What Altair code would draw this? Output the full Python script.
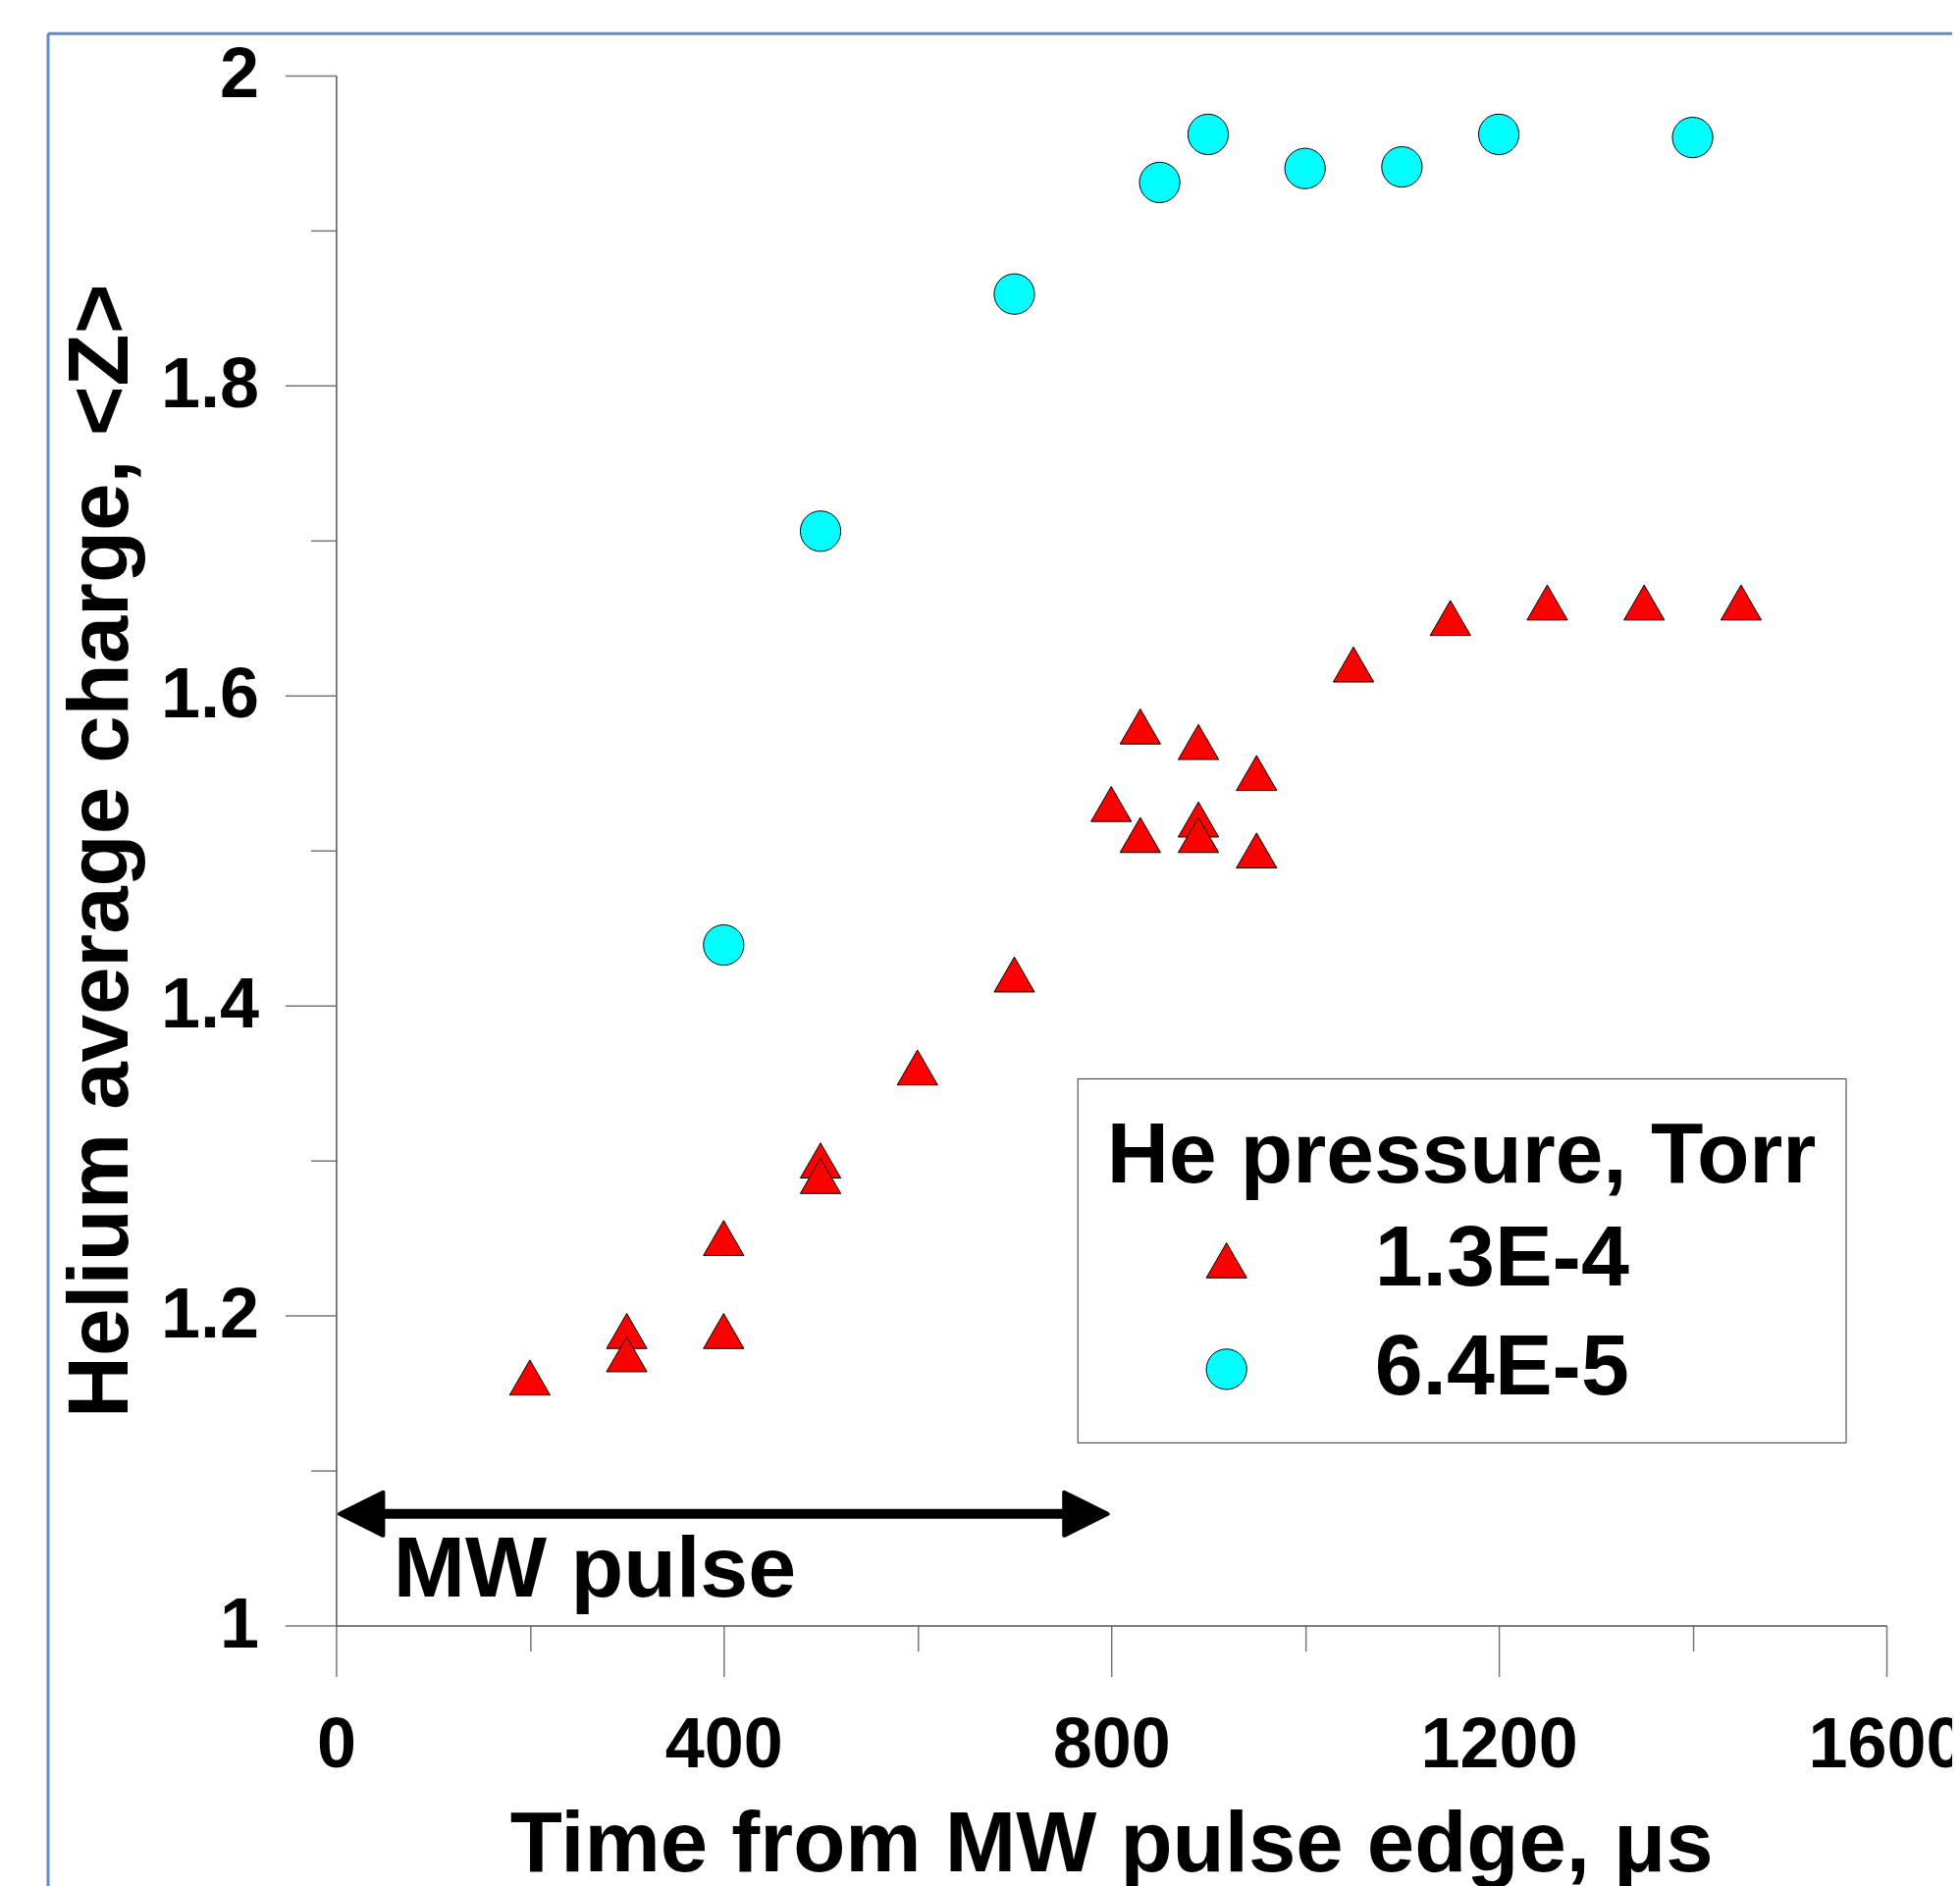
import altair as alt
import pandas as pd

# ---------------- data ----------------
SERIES = ["1.3E-4", "6.4E-5"]
LEGEND_TITLE = "He pressure, Torr"

TRI_TIME = [200, 300, 300, 400, 400, 500, 500, 600, 700, 800, 830, 830,
            890, 890, 890, 950, 950, 1050, 1150, 1250, 1350, 1450]
TRI_Z = [1.160, 1.190, 1.175, 1.250, 1.190, 1.300, 1.290, 1.360, 1.420, 1.530, 1.580, 1.510,
         1.570, 1.520, 1.510, 1.550, 1.500, 1.620, 1.650, 1.660, 1.660, 1.660]

CIRC_TIME = [400, 500, 700, 850, 900, 1000, 1100, 1200, 1400]
CIRC_Z = [1.439, 1.706, 1.859, 1.931, 1.962, 1.940, 1.941, 1.962, 1.960]

X_MAJOR = [0, 400, 800, 1200, 1600]
X_MINOR = [200, 600, 1000, 1400]
Y_MAJOR = [1.0, 1.2, 1.4, 1.6, 1.8, 2.0]
Y_MINOR = [1.1, 1.3, 1.5, 1.7, 1.9]

PULSE_TIME = [0, 800]
PULSE_Z = [1.072]
PULSE_LABEL = ["MW pulse"]
PULSE_LABEL_TIME = [59]
PULSE_LABEL_Z = [1.0186]

X_TITLE = "Time from MW pulse edge, \u03bcs"
Y_TITLE = "Helium average charge, <Z>"

# ---------------- styling ----------------
FONT = "Liberation Sans"
W = 1580
H = 1580
FRAME = "#5B8DC8"

df = pd.DataFrame({
    "t": TRI_TIME + CIRC_TIME,
    "z": TRI_Z + CIRC_Z,
    "p": [SERIES[0]] * len(TRI_TIME) + [SERIES[1]] * len(CIRC_TIME),
})

xscale = alt.Scale(domain=[0, 1600], nice=False, zero=False)
yscale = alt.Scale(domain=[1, 2], nice=False, zero=False)

common_axis = dict(domainColor="#555555", tickColor="#777777", domainWidth=1.5, tickWidth=1.5,
                   grid=False, labelFont=FONT, labelFontWeight="bold", labelColor="black",
                   titleFont=FONT, titleFontWeight="bold", titleColor="black",
                   labelOverlap=False, labelFlush=False, labelLimit=1000, titleLimit=3000)

legend = alt.Legend(
    orient="none", legendX=755.5, legendY=1022.3,
    title=LEGEND_TITLE, titleFont=FONT, titleFontSize=87.5, titleFontWeight="bold", titleColor="black",
    titleBaseline="line-top", titleLineHeight=102, titlePadding=24, titleLimit=3000,
    labelFont=FONT, labelFontSize=88, labelFontWeight="bold", labelColor="black", labelLimit=1000,
    symbolSize=1700, symbolOffset=78, labelOffset=107, rowPadding=23, padding=30,
    strokeColor="#333333", fillColor="white",
    symbolStrokeColor="black", symbolStrokeWidth=1,
)

points = alt.Chart(df).mark_point(filled=True, stroke="black", strokeWidth=1, opacity=1, size=1700).encode(
    x=alt.X("t:Q", scale=xscale, axis=alt.Axis(
        values=X_MAJOR, tickSize=52, labelPadding=35, labelFontSize=72, format="d",
        title=X_TITLE, titleFontSize=87, titleY=181, titleBaseline="top", orient="bottom",
        **common_axis)),
    y=alt.Y("z:Q", scale=yscale, axis=alt.Axis(
        values=Y_MAJOR, tickSize=52, labelPadding=27, labelFontSize=72, format=".1~f",
        title=Y_TITLE, titleFontSize=87, titleX=-212.5, titleY=H / 2, titleAngle=270,
        titleBaseline="alphabetic", titleAlign="center", orient="left",
        **common_axis)),
    color=alt.Color("p:N", scale=alt.Scale(domain=SERIES, range=["#FF0000", "#00FFFF"]), legend=legend),
    shape=alt.Shape("p:N", scale=alt.Scale(domain=SERIES, range=["triangle-up", "circle"]), legend=legend),
)

minor = alt.Chart(df).mark_point(opacity=0).encode(
    x=alt.X("t:Q", scale=xscale, axis=alt.Axis(
        values=X_MINOR, tickSize=26, labels=False, domain=False, title="", orient="bottom",
        tickColor="#777777", tickWidth=1.5, grid=False)),
    y=alt.Y("z:Q", scale=yscale, axis=alt.Axis(
        values=Y_MINOR, tickSize=26, labels=False, domain=False, title="", orient="left",
        tickColor="#777777", tickWidth=1.5, grid=False)),
)

pulse_df = pd.DataFrame({"t0": [PULSE_TIME[0]], "t1": [PULSE_TIME[1]], "z": PULSE_Z})
pulse_line = alt.Chart(pulse_df).mark_rule(strokeWidth=10, color="black", xOffset=20, x2Offset=-20).encode(
    x=alt.X("t0:Q", scale=xscale, axis=None),
    x2="t1:Q",
    y=alt.Y("z:Q", scale=yscale, axis=None),
)

LEFT_HEAD = "M0.15,0 L2,-0.92 L2,0.92 Z"
RIGHT_HEAD = "M-0.15,0 L-2,-0.92 L-2,0.92 Z"
head_kw = dict(filled=True, fill="black", stroke="black", strokeWidth=4, strokeJoin="round",
               size=2304, opacity=1)
head_l = alt.Chart(pulse_df).mark_point(shape=LEFT_HEAD, **head_kw).encode(
    x=alt.X("t0:Q", scale=xscale, axis=None),
    y=alt.Y("z:Q", scale=yscale, axis=None),
)
head_r = alt.Chart(pulse_df).mark_point(shape=RIGHT_HEAD, **head_kw).encode(
    x=alt.X("t1:Q", scale=xscale, axis=None),
    y=alt.Y("z:Q", scale=yscale, axis=None),
)

label_df = pd.DataFrame({"t": PULSE_LABEL_TIME, "z": PULSE_LABEL_Z, "label": PULSE_LABEL})
pulse_label = alt.Chart(label_df).mark_text(
    align="left", baseline="alphabetic", fontSize=88, font=FONT, fontWeight="bold", color="black"
).encode(
    x=alt.X("t:Q", scale=xscale, axis=None),
    y=alt.Y("z:Q", scale=yscale, axis=None),
    text="label:N",
)

frame_top = alt.Chart(pulse_df).mark_rule(color=FRAME, strokeWidth=3).encode(
    x=alt.value(-293.5), x2=alt.value(2000), y=alt.value(-42.7))
frame_left = alt.Chart(pulse_df).mark_rule(color=FRAME, strokeWidth=3).encode(
    x=alt.value(-293.5), y=alt.value(-42.7), y2=alt.value(2000))

chart = alt.layer(
    frame_top, frame_left, minor, pulse_line, head_l, head_r, pulse_label, points
).resolve_axis(
    x="independent", y="independent"
).properties(
    width=W, height=H,
    autosize=alt.AutoSizeParams(type="none"),
    padding={"left": 334.5, "top": 68.7, "right": 67, "bottom": 275},
).configure(
    font=FONT
).configure_view(
    stroke="transparent"
)

chart.save("out.html", embed_options={"renderer": "svg", "actions": False})
